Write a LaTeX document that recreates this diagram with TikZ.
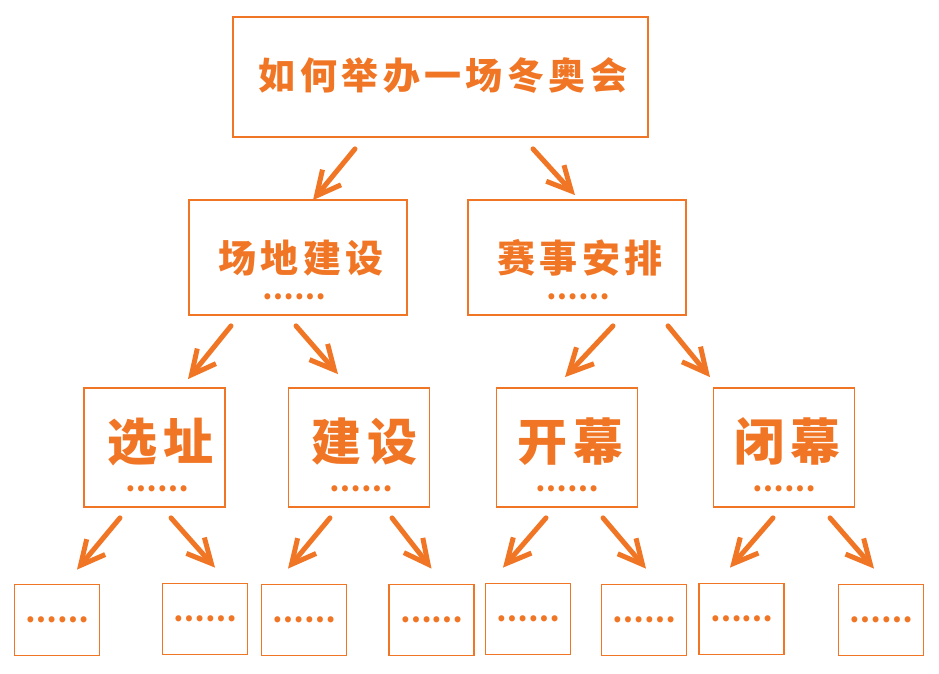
\documentclass[tikz,border=0pt]{standalone}
\usepackage{fontspec}
\newfontfamily\cjk{Noto Sans CJK SC}[LetterSpace=12]
\newfontfamily\cjkdots{Noto Sans CJK SC}
\usetikzlibrary{arrows.meta,calc}
\definecolor{sketch}{RGB}{240,118,38}
\tikzset{
  box/.style      = {shape=rectangle, draw=sketch, line width=1.8pt,
                     inner sep=0pt},
  root/.style     = {box, minimum width=415pt, minimum height=120pt},
  topic/.style    = {box, minimum width=218pt, minimum height=115pt},
  item/.style     = {box, minimum width=141pt, minimum height=119pt},
  leaf/.style     = {box, minimum width=85pt, minimum height=71pt},
  headtext/.style = {text=sketch, inner sep=0pt, text height=0.8*#1,
                     text depth=0pt,
                     font=\cjk\bfseries\fontsize{#1}{#1}\selectfont},
  dots/.style     = {text=sketch, inner sep=0pt,
                     font=\cjkdots\bfseries\fontsize{28pt}{28pt}\selectfont},
  arr/.style      = {draw=sketch, line width=5pt, line cap=round,
                     line join=round,
                     -{Straight Barb[length=24pt,width=24pt,line width=5pt]}}
}

\begin{document}
\begin{tikzpicture}[x=1pt, y=-1pt]
  \useasboundingbox (0,0) rectangle (939,673);

  % top
  \node [root] (root) at (440.5,77) {};
  \node [headtext=37pt] (root-t) at (443,75) {如何举办一场冬奥会};

  % second level
  \node [topic] (site) at (298,257.5) {};
  \node [headtext=38pt] (site-t) at (301,257) {场地建设};
  \node [dots] (site-d) at (294,297) {……};
  \node [topic] (event) at (577,257.5) {};
  \node [headtext=38pt] (event-t) at (580,257) {赛事安排};
  \node [dots] (event-d) at (578,297) {……};

  % third level
  \node [item] (choose) at (154.5,447.5) {};
  \node [headtext=50pt] (choose-t) at (160,440) {选址};
  \node [dots] (choose-d) at (157,489) {……};
  \node [item] (build) at (359,447.5) {};
  \node [headtext=50pt] (build-t) at (364,440) {建设};
  \node [dots] (build-d) at (361,489) {……};
  \node [item] (open) at (567,447.5) {};
  \node [headtext=50pt] (open-t) at (570,440) {开幕};
  \node [dots] (open-d) at (567,489) {……};
  \node [item] (close) at (784,447.5) {};
  \node [headtext=50pt] (close-t) at (787,440) {闭幕};
  \node [dots] (close-d) at (784,489) {……};

  % leaves
  \node [leaf, dots] (choose-a) at (57,620)    {……};
  \node [leaf, dots] (choose-b) at (205,619)   {……};
  \node [leaf, dots] (build-a)  at (304,620)   {……};
  \node [leaf, dots] (build-b)  at (431.5,620) {……};
  \node [leaf, dots] (open-a)   at (528,619)   {……};
  \node [leaf, dots] (open-b)   at (644,620)   {……};
  \node [leaf, dots] (close-a)  at (741.5,619) {……};
  \node [leaf, dots] (close-b)  at (881,620)   {……};

  % arrows
  \draw [arr] ($(root.south)+(-85.5,11)$) -- ($(site.north)+(15,1)$);
  \draw [arr] ($(root.south)+(92.5,11)$)  -- ($(event.north)+(-2,-4)$);

  \draw [arr] ($(site.south)+(-67,10)$)  -- ($(choose.north)+(33.5,-8)$);
  \draw [arr] ($(site.south)+(-2,10)$)   -- ($(build.north)+(-21,-13)$);
  \draw [arr] ($(event.south)+(36,10)$)  -- ($(open.north)+(-2,-10)$);
  \draw [arr] ($(event.south)+(91,10)$)  -- ($(close.north)+(-74,-10)$);

  \draw [arr] ($(choose.south)+(-34.5,10)$) -- ($(choose-a.north)+(20,-14)$);
  \draw [arr] ($(choose.south)+(16.5,10)$)  -- ($(choose-b.north)+(10,-15)$);
  \draw [arr] ($(build.south)+(-29,10)$)    -- ($(build-a.north)+(-16,-15)$);
  \draw [arr] ($(build.south)+(33,10)$)     -- ($(build-b.north)+(0,-15)$);
  \draw [arr] ($(open.south)+(-21,10)$)     -- ($(open-a.north)+(-25,-15)$);
  \draw [arr] ($(open.south)+(36,10)$)      -- ($(open-b.north)+(2,-15)$);
  \draw [arr] ($(close.south)+(-11,10)$)    -- ($(close-a.north)+(-11.5,-15)$);
  \draw [arr] ($(close.south)+(46,10)$)     -- ($(close-b.north)+(-7,-15)$);
\end{tikzpicture}
\end{document}
